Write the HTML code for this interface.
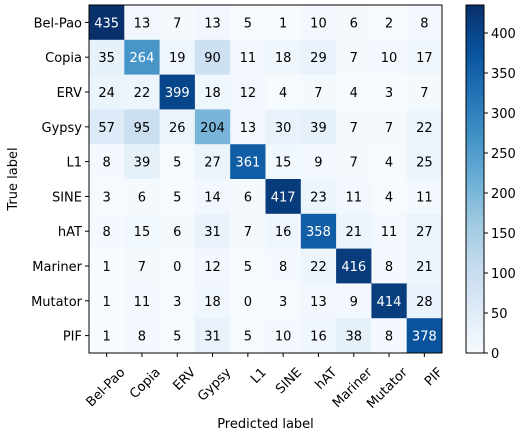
<!DOCTYPE html>
<html><head><meta charset="utf-8"><style>
body{margin:0;background:#fff;}
svg{display:block;font-family:"DejaVu Sans","Liberation Sans",sans-serif;}
</style></head><body>
<svg id="chart" width="525" height="435"></svg>
<script>
const categories=["Bel-Pao","Copia","ERV","Gypsy","L1","SINE","hAT","Mariner","Mutator","PIF"];
const matrix=[
[435,13,7,13,5,1,10,6,2,8],
[35,264,19,90,11,18,29,7,10,17],
[24,22,399,18,12,4,7,4,3,7],
[57,95,26,204,13,30,39,7,7,22],
[8,39,5,27,361,15,9,7,4,25],
[3,6,5,14,6,417,23,11,4,11],
[8,15,6,31,7,16,358,21,11,27],
[1,7,0,12,5,8,22,416,8,21],
[1,11,3,18,0,3,13,9,414,28],
[1,8,5,31,5,10,16,38,8,378]];
const cbTicks=[0,50,100,150,200,250,300,350,400];

const NS="http://www.w3.org/2000/svg";
const svg=document.getElementById('chart');
const L=89,R=442,T=5,B=353;
const n=categories.length, cw=(R-L)/n, ch=(B-T)/n;
const vmax=Math.max(...matrix.flat()), vmin=0;
const stops=["#f7fbff","#deebf7","#c6dbef","#9ecae1","#6baed6","#4292c6","#2171b5","#08519c","#08306b"];
function hex(h){return [1,3,5].map(i=>parseInt(h.substr(i,2),16));}
function cmap(t){t=Math.max(0,Math.min(1,t));const p=t*8,i=Math.min(7,Math.floor(p)),f=p-i;
 const a=hex(stops[i]),b=hex(stops[i+1]);return 'rgb('+a.map((v,k)=>Math.round(v+(b[k]-v)*f)).join(',')+')';}
function el(tag,attrs,txt){const e=document.createElementNS(NS,tag);for(const k in attrs)e.setAttribute(k,attrs[k]);if(txt!==undefined)e.textContent=txt;svg.appendChild(e);return e;}
const x=j=>L+j*cw, y=i=>T+i*ch;

matrix.forEach((row,i)=>row.forEach((v,j)=>{
 const r=el('rect',{x:x(j),y:y(i),width:cw+0.5,height:ch+0.5,fill:cmap((v-vmin)/(vmax-vmin))});
 
 
 const t=el('text',{x:x(j)+cw/2,y:y(i)+ch/2+5,'text-anchor':'middle','font-size':13,fill:v>vmax/2?'#fff':'#000'},v);
 
 
}));
const frame=el('rect',{x:L,y:T,width:R-L,height:B-T,fill:'none',stroke:'#000','stroke-width':1});


categories.forEach((c,i)=>{
 el('line',{x1:L-4,x2:L,y1:y(i)+ch/2,y2:y(i)+ch/2,stroke:'#000'});
 const t=el('text',{x:L-7,y:y(i)+ch/2+5,'text-anchor':'end','font-size':13},c);
 
 const cx=x(i)+cw/2;
 el('line',{x1:cx,x2:cx,y1:B,y2:B+4,stroke:'#000'});
 const ax=cx+19, ay=B+20;
 const u=el('text',{x:ax,y:ay,'text-anchor':'end','font-size':13,transform:'rotate(-45 '+ax+' '+ay+')'},c);
 
});
const xt=el('text',{x:(L+R)/2,y:428,'text-anchor':'middle','font-size':13},'Predicted label');

const yt=el('text',{x:17,y:(T+B)/2,'text-anchor':'middle','font-size':13,transform:'rotate(-90 17 '+((T+B)/2)+')'},'True label');


// colorbar
const CL=466,CR=484,steps=200;
for(let k=0;k<steps;k++){
 const r=el('rect',{x:CL,y:B-(k+1)*(B-T)/steps,width:CR-CL,height:(B-T)/steps+0.6,fill:cmap((k+0.5)/steps)});
 
}
const cf=el('rect',{x:CL,y:T,width:CR-CL,height:B-T,fill:'none',stroke:'#000'});

const cy=v=>B-(v-vmin)/(vmax-vmin)*(B-T);
cbTicks.forEach(v=>{
 el('line',{x1:CR,x2:CR+4,y1:cy(v),y2:cy(v),stroke:'#000'});
 const t=el('text',{x:CR+7,y:cy(v)+5,'font-size':13},v);
 
});
</script>
</body></html>
